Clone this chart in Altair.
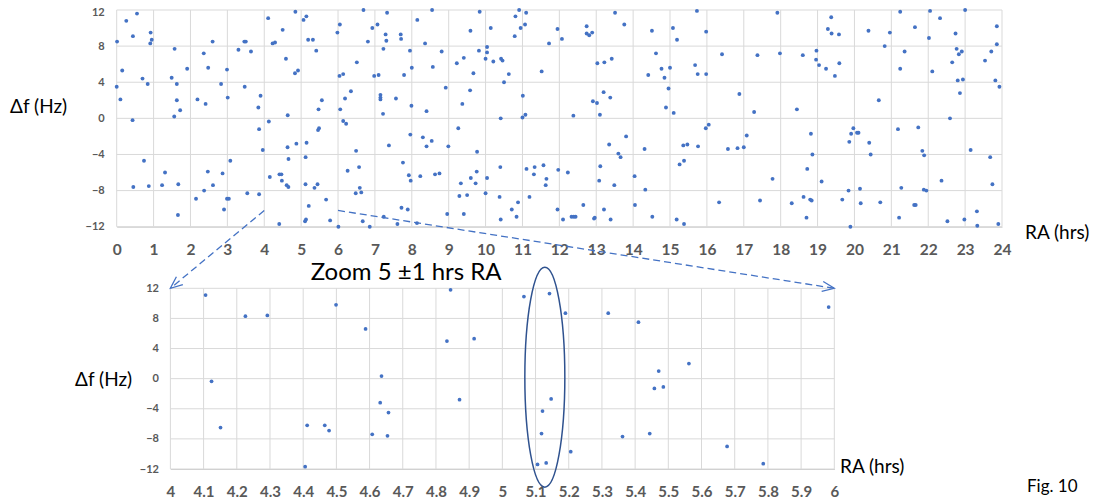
import math
import altair as alt
import pandas as pd

# ---------------- data: RA (hrs) and delta-f (Hz), grouped by RA band ----------------
RA_A = [0.55, 0.26, 0.44, 0.92, 0.95, 0.91, 0.01, 0.15, 0.70, 0.84,
        0.00, 0.10, 0.43, 0.74, 0.45, 0.87, 1.57, 1.49, 1.63, 1.63,
        1.72, 1.56, 1.91, 1.31, 1.23, 1.67, 1.66, 2.36, 2.48, 2.60,
        2.19, 2.41, 2.83, 2.99, 3.01, 2.47, 2.87, 2.61, 3.08, 2.37,
        2.15, 2.99, 3.04, 2.91, 3.30, 3.46, 3.50, 3.64, 3.47, 3.84,
        3.86, 3.54, 3.86, 3.90, 3.96]
DF_A = [11.6, 10.8, 9.1, 9.5, 8.7, 8.3, 8.5, 5.3, 4.4, 3.8,
        3.5, 2.1, -0.2, -4.7, -7.6, -7.5, 7.7, 4.5, 3.8, 2.0,
        0.9, 0.2, 5.5, -6.0, -7.4, -7.3, -10.7, 7.2, 5.6, 8.5,
        2.1, 1.6, 3.8, 5.4, 2.3, -5.9, -6.1, -7.4, -4.7, -8.0,
        -8.9, -8.9, -8.9, -10.1, 7.6, 8.5, 8.5, 7.4, 3.5, 1.2,
        -1.2, -8.3, -8.4, 2.5, -3.5]

RA_B = [4.106, 4.124, 4.151, 4.226, 4.292, 4.406, 4.412, 4.465, 4.478, 4.499,
        4.588, 4.636, 4.632, 4.657, 4.608, 4.654, 4.844, 4.833, 4.915, 4.871,
        5.065, 5.142, 5.190, 5.147, 5.121, 5.118, 5.206, 5.106, 5.132, 5.319,
        5.410, 5.562, 5.471, 5.458, 5.485, 5.362, 5.444, 5.677, 5.786, 5.983]
DF_B = [11.1, -0.35, -6.5, 8.3, 8.4, -11.7, -6.2, -6.2, -6.9, 9.8,
        6.6, 0.35, -3.2, -4.5, -7.4, -7.6, 11.8, 5.0, 5.3, -2.8,
        10.9, 11.3, 8.7, -2.7, -4.3, -7.3, -9.7, -11.4, -11.2, 8.7,
        7.5, 2.0, 1.0, -1.3, -1.1, -7.7, -7.3, -9.0, -11.3, 9.5]

RA_C = [6.01, 6.05, 6.04, 6.14, 6.51, 6.35, 6.19, 6.06, 6.14, 6.22,
        6.49, 6.26, 6.57, 6.59, 6.48, 6.63, 6.67, 6.86, 6.69, 6.93,
        7.07, 6.81, 7.33, 7.29, 7.31, 7.23, 6.98, 7.10, 7.15, 7.15,
        7.15, 7.57, 7.22, 7.38, 7.24, 7.70, 7.71, 7.79, 7.76, 7.92,
        7.72, 7.89, 7.61, 7.95, 7.96, 7.97, 8.00, 7.99]
DF_C = [-12.0, 10.4, 4.7, 4.9, 6.2, 3.0, 2.2, 1.0, -0.3, -0.6,
        -3.6, -5.8, -5.4, -7.7, -8.3, -8.2, -11.4, -12.0, 12.0, 10.0,
        10.4, 8.5, 11.7, 9.3, 8.6, 7.7, 4.7, 4.8, 2.6, 2.3,
        2.1, 2.2, 0.5, -3.0, -10.9, 9.3, 8.8, 4.8, -4.9, -6.3,
        -9.9, -10.1, -11.7, 7.5, -1.8, -6.9, 5.6, 1.4]

RA_D = [8.15, 8.55, 8.36, 8.81, 8.57, 8.40, 8.30, 8.40, 8.54, 8.23,
        8.63, 8.75, 8.14, 8.92, 8.99, 8.96, 9.84, 9.59, 9.82, 9.41,
        9.22, 9.67, 9.58, 9.37, 9.26, 9.77, 9.33, 9.60, 9.76, 9.73,
        9.29, 9.50, 9.41, 10.14, 10.04, 10.04, 10.00, 10.21, 10.42, 10.46,
        10.63, 10.50, 10.41, 10.40, 10.04, 10.00, 10.38, 10.41, 10.71, 10.88,
        10.84, 10.91, 10.81, 11.10, 11.07, 10.95, 10.79, 11.01, 11.00, 11.08,
        11.11, 11.33, 11.31, 11.57, 11.65, 11.63, 11.19, 11.72, 11.52, 11.95,
        11.97, 11.95]
DF_D = [10.9, 12.0, 8.3, 7.4, 5.7, 0.8, -2.1, -3.1, -2.5, -6.4,
        -6.2, -6.1, -11.6, 3.4, -3.1, -10.6, 11.8, 9.7, 7.5, 6.7,
        6.1, 5.0, 3.1, 1.6, -1.1, -3.7, -7.2, -6.6, -5.9, -7.2,
        -8.6, -8.5, -10.6, 10.0, 7.9, 7.3, 6.6, 6.3, 6.6, 6.4,
        4.9, 4.0, 0.0, -5.4, -6.6, -8.3, -8.7, -11.2, -10.1, -9.3,
        -10.9, 12.0, 11.3, 11.7, 10.4, 10.0, 9.1, 2.5, 0.1, 0.4,
        -5.6, -5.4, -6.2, -5.2, -6.7, -7.4, -8.7, 8.3, 5.2, 9.9,
        -5.7, -10.1]

RA_E = [12.07, 12.38, 12.23, 12.10, 12.33, 12.39, 12.44, 12.65, 12.74, 12.74,
        12.81, 12.89, 13.03, 13.22, 13.42, 13.20, 12.91, 13.02, 13.38, 13.10,
        13.51, 13.76, 13.35, 13.81, 13.60, 13.66, 13.11, 13.08, 13.49, 13.21,
        12.94, 12.96, 13.39, 14.51, 14.62, 14.41, 14.77, 15.00, 14.85, 14.96,
        14.89, 15.10, 14.31, 14.04, 14.33, 14.05, 14.52, 15.08, 15.19, 15.26,
        15.38, 15.36, 15.47, 15.76, 15.18, 15.38, 15.73, 15.68, 15.75, 15.98,
        15.98, 15.97, 16.05]
DF_E = [8.8, 0.3, -6.0, -11.2, -10.9, -10.9, -10.9, -9.6, 10.2, 9.4,
        9.2, 9.5, 6.1, 6.2, 6.6, 2.9, 1.9, 1.7, 2.3, 0.4,
        11.7, 10.4, -2.9, -2.0, -3.9, -4.3, -5.3, -6.9, -7.4, -10.1,
        -11.1, -11.0, -11.2, 9.7, 7.2, 4.8, 5.5, 5.6, 4.5, 3.3,
        1.2, 0.6, -3.4, -6.4, -7.9, -9.6, -10.9, 10.0, 8.7, -5.1,
        -4.7, -3.0, -2.9, -3.1, -11.2, -11.7, 11.9, 5.9, 4.9, 9.6,
        4.9, -1.1, -0.7]

RA_F = [16.41, 16.33, 16.57, 16.83, 17.00, 17.08, 16.88, 17.28, 17.37, 17.44,
        17.78, 17.91, 17.98, 18.30, 18.44, 18.60, 18.62, 18.70, 18.72, 18.82,
        18.86, 18.80, 18.84, 18.97, 18.96, 19.04, 19.23, 19.47, 19.59, 19.28,
        19.38, 19.58, 19.37, 19.11, 19.67, 19.84, 19.86, 19.91, 19.97, 20.07,
        20.11, 19.89]
DF_F = [7.1, -9.3, -3.4, -3.3, -3.2, -1.9, 2.7, 0.7, 7.0, -9.1,
        -6.7, 11.7, 7.2, -9.4, 1.0, 7.0, -8.7, -11.0, -5.6, -1.7,
        -4.0, -9.0, -9.1, 7.5, 6.5, 5.9, 5.5, 4.7, 6.1, 9.9,
        9.4, 9.3, 11.2, -7.0, -9.0, -8.0, -2.6, -1.7, -1.1, -1.6,
        -1.6, -12.0]

RA_G = [20.15, 20.17, 20.38, 20.82, 20.96, 20.66, 20.40, 20.44, 20.70, 21.24,
        21.64, 21.36, 21.24, 21.18, 21.73, 21.27, 21.21, 21.62, 21.66, 21.84,
        21.89, 21.88, 21.95, 22.05, 22.02, 22.32, 22.11, 22.36, 22.52, 22.59,
        22.74, 22.77, 22.83, 22.91, 22.65, 22.80, 22.94, 22.86, 23.00, 23.15,
        22.98, 23.32, 23.33, 23.54, 23.71, 23.86, 23.86, 23.82, 23.93, 23.68,
        23.74, 23.90]
DF_G = [-7.8, -9.4, 9.7, 8.0, 9.5, 2.0, -2.7, -4.0, -9.3, 11.8,
        10.1, 7.4, 5.5, -1.2, -1.0, -7.7, -11.0, -9.6, -9.6, -3.6,
        -4.1, -7.9, -8.0, 11.9, 8.9, 11.1, 5.2, -6.9, -11.4, 0.0,
        9.4, 7.7, 7.1, 7.4, 6.2, 4.2, 4.3, 2.8, 12.0, -3.5,
        -11.2, -10.3, -11.9, 6.4, 7.4, 8.2, 10.2, 4.2, 3.5, -4.3,
        -7.3, -11.7]

# axis ticks
TOP_X_TICKS = list(range(0, 25))
Y_TICKS = [-12, -8, -4, 0, 4, 8, 12]
ZOOM_X_TICKS = [4.0, 4.1, 4.2, 4.3, 4.4, 4.5, 4.6, 4.7, 4.8, 4.9, 5.0,
                5.1, 5.2, 5.3, 5.4, 5.5, 5.6, 5.7, 5.8, 5.9, 6.0]
TOP_RANGE = [0, 24]
ZOOM_RANGE = [4.0, 6.0]
DF_RANGE = [-12, 12]
ELLIPSE_CENTER = {"ra": [5.128], "df": [0.2]}

rows = []
for ras, dfs in [(RA_A, DF_A), (RA_B, DF_B), (RA_C, DF_C), (RA_D, DF_D),
                 (RA_E, DF_E), (RA_F, DF_F), (RA_G, DF_G)]:
    for r, d in zip(ras, dfs):
        rows.append({"ra": r, "df": d})
data = pd.DataFrame(rows)

# ---------------- layout (pixels inside the canvas) ----------------
W, H = 1085, 490
TOP_XR = [108.7, 994.0]
TOP_YR = [218.7, 2.0]
BOT_XR = [162.4, 826.3]
BOT_YR = [461.0, 280.3]

BLUE = "#4472C4"
GRID = "#D9D9D9"
DOMAIN = "#C8C8C8"
LABEL = "#595959"
FONT = "Lato"


def px(v, dom, rng):
    return rng[0] + (v - dom[0]) / (dom[1] - dom[0]) * (rng[1] - rng[0])


def axis(values, orient, offset, size, pad, fmt=None, domain=True, label_offset=None):
    kw = dict(values=values, orient=orient, offset=offset, title=None, grid=False,
              domain=domain, domainColor=DOMAIN, domainWidth=1,
              ticks=False, tickSize=0, labelFont=FONT, labelFontSize=size,
              labelFontWeight="bold", labelColor=LABEL, labelPadding=pad,
              labelFlush=False, labelOverlap=False)
    if fmt:
        kw["format"] = fmt
    if label_offset is not None:
        kw["labelOffset"] = label_offset
    return alt.Axis(**kw)


def panel(xdom, xr, yr, xticks, xsize, xpad, xfmt, ysize, ypad, point_size,
          filt=None, y_label_offset=None):
    xs = alt.Scale(domain=xdom, range=xr, nice=False, zero=False)
    ys = alt.Scale(domain=DF_RANGE, range=yr, nice=False, zero=False)
    xa = axis(xticks, "bottom", yr[0] - H, xsize, xpad, fmt=xfmt)
    ya = axis(Y_TICKS, "left", -xr[0], ysize, ypad, domain=False, label_offset=y_label_offset)
    vgrid = alt.Chart(pd.DataFrame({"ra": xticks})).mark_rule(
        color=GRID, strokeWidth=1).encode(
        x=alt.X("ra:Q", scale=xs, axis=xa),
        y=alt.value(yr[1]), y2=alt.value(yr[0]))
    hgrid = alt.Chart(pd.DataFrame({"df": Y_TICKS})).mark_rule(
        color=GRID, strokeWidth=1).encode(
        y=alt.Y("df:Q", scale=ys, axis=ya),
        x=alt.value(xr[0]), x2=alt.value(xr[1]))
    base = alt.Chart(data)
    if filt is not None:
        base = base.transform_filter(filt)
    pts = base.mark_circle(size=point_size, color=BLUE, opacity=1).encode(
        x=alt.X("ra:Q", scale=xs, axis=xa),
        y=alt.Y("df:Q", scale=ys, axis=ya),
    )
    return [vgrid, hgrid, pts], xs, ys, xa, ya


top_layers, _, _, _, _ = panel(
    TOP_RANGE, TOP_XR, TOP_YR, TOP_X_TICKS, 15.5, 15.5, None, 11, 12.5, 15,
    y_label_offset={"condition": {"test": "datum.value == 12", "value": 2.5}, "value": 0})
top = alt.layer(*top_layers)

bot_layers, bxs, bys, bxa, bya = panel(
    ZOOM_RANGE, BOT_XR, BOT_YR, ZOOM_X_TICKS, 15, 15, ".1~f", 11, 12, 14,
    filt=(alt.datum.ra >= ZOOM_RANGE[0]) & (alt.datum.ra <= ZOOM_RANGE[1]))

# ellipse annotation (rx 20 px, ry 110 px) as a custom symbol
a, k = 20.0 / 110.0, 0.5523
ELLIPSE = (f"M 0 -1 C {k*a:.4f} -1 {a:.4f} {-k:.4f} {a:.4f} 0 "
           f"C {a:.4f} {k:.4f} {k*a:.4f} 1 0 1 "
           f"C {-k*a:.4f} 1 {-a:.4f} {k:.4f} {-a:.4f} 0 "
           f"C {-a:.4f} {-k:.4f} {-k*a:.4f} -1 0 -1 Z")
ellipse = alt.Chart(pd.DataFrame(ELLIPSE_CENTER)).mark_point(
    shape=ELLIPSE, size=220 * 220, filled=False, stroke="#2F528F",
    strokeWidth=1.5, opacity=1
).encode(x=alt.X("ra:Q", scale=bxs, axis=bxa), y=alt.Y("df:Q", scale=bys, axis=bya))

bottom = alt.layer(*bot_layers, ellipse)

# dashed arrows from the top panel (RA 4 and 6) to the corners of the zoom panel
one = pd.DataFrame({"k": [0]})
arrows = []
for ra in ZOOM_RANGE:
    x1, y1 = px(ra, TOP_RANGE, TOP_XR), px(-10.2, DF_RANGE, TOP_YR)
    x2, y2 = px(ra, ZOOM_RANGE, BOT_XR), px(12, DF_RANGE, BOT_YR)
    arrows.append(alt.Chart(one).mark_rule(color=BLUE, strokeWidth=1.3, strokeDash=[7, 4]).encode(
        x=alt.value(x1), y=alt.value(y1), x2=alt.value(x2), y2=alt.value(y2)))
    ang = math.degrees(math.atan2(y2 - y1, x2 - x1)) % 360
    arrows.append(alt.Chart(one).mark_point(
        shape="M -1 -0.42 L 0 0 L -1 0.42", size=144 * 4, filled=False,
        stroke=BLUE, strokeWidth=1.3, opacity=1, angle=ang
    ).encode(x=alt.value(x2), y=alt.value(y2)))


def label(text, x, y, size):
    return alt.Chart(pd.DataFrame({"t": [text]})).mark_text(
        align="left", baseline="middle", font=FONT, fontSize=size, color="black"
    ).encode(text="t:N", x=alt.value(x), y=alt.value(y))


texts = [
    label("Δf (Hz)", 2, 98.7, 19),
    label("RA (hrs)", 1017, 225, 19),
    label("Δf (Hz)", 67, 372, 19),
    label("RA (hrs)", 832, 459, 19),
    label("Zoom 5 ±1 hrs RA", 302.7, 264.5, 24),
    label("Fig. 10", 1019, 479, 17),
]

chart = alt.layer(top, bottom, *arrows, *texts).resolve_scale(
    x="independent", y="independent"
).resolve_axis(
    x="independent", y="independent"
).properties(
    width=W, height=H, padding=0,
    autosize=alt.AutoSizeParams(type="none"),
).configure_view(strokeWidth=0)

chart.save("out.html", embed_options={"renderer": "svg", "actions": False})
